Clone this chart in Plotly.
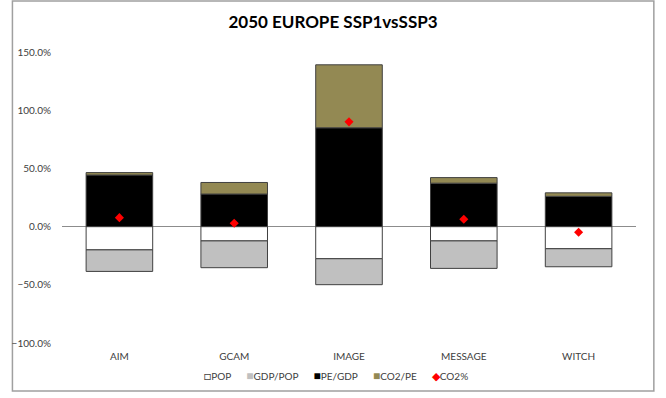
import plotly.graph_objects as go

# Decomposition of the change in CO2 emissions, Europe 2050 (SSP1 vs SSP3)
models = ["AIM", "GCAM", "IMAGE", "MESSAGE", "WITCH"]
pop = [-0.200, -0.123, -0.276, -0.123, -0.190]
gdp_pop = [-0.185, -0.230, -0.223, -0.236, -0.155]
pe_gdp = [0.443, 0.280, 0.849, 0.373, 0.260]
co2_pe = [0.021, 0.099, 0.541, 0.048, 0.030]
co2_pct = [0.077, 0.029, 0.900, 0.063, -0.049]
y_ticks = [-1.0, -0.5, 0.0, 0.5, 1.0, 1.5]

W, H = 666, 398
L, R, T, B = 57, 30, 52, 55
pw, ph = W - L - R, H - T - B

edge = dict(color="#404040", width=1)
series = [
    ("POP", pop, "#ffffff"),
    ("GDP/POP", gdp_pop, "#c0c0c0"),
    ("PE/GDP", pe_gdp, "#000000"),
    ("CO2/PE", co2_pe, "#938953"),
]

fig = go.Figure()
for name, vals, col in series:
    fig.add_bar(name=name, x=models, y=vals, marker=dict(color=col, line=edge))
fig.add_scatter(name="CO2%", x=models, y=co2_pct, mode="markers",
                marker=dict(symbol="diamond", color="#ff0000", size=7))

font_family = "Lato, 'Open Sans', sans-serif"
tick_font = dict(family=font_family, size=10, color="#404040")

# compact one-line key under the plot
key_parts = []
for name, _, col in series:
    glyph = "□" if col == "#ffffff" else "■"
    gcol = "#404040" if col == "#ffffff" else col
    key_parts.append(f"<span style='color:{gcol};font-size:12px'>{glyph}</span>{name}")
key_parts.append("<span style='color:#ff0000;font-size:11px'>◆</span>CO2%")
key_text = "\u2002\u2002\u2002".join(key_parts)

# outer chart frame
fx0 = (7 - L) / pw
fx1 = (654 - L) / pw
fy0 = -(391 - (H - B)) / ph
fy1 = 1 + (T - 1) / ph

fig.update_layout(
    width=W, height=H,
    margin=dict(l=L, r=R, t=T, b=B),
    paper_bgcolor="white", plot_bgcolor="white",
    barmode="relative", bargap=0.42, showlegend=False,
    title=dict(text="<b>2050 EUROPE SSP1vsSSP3</b>", x=0.5, xanchor="center",
               y=1 - 22 / H, yanchor="middle", yref="container",
               font=dict(family=font_family, size=17, color="#000000")),
    xaxis=dict(showline=False, showgrid=False, ticks="", tickfont=tick_font,
               ticklabelstandoff=6),
    yaxis=dict(range=[-1.0, 1.5], tickvals=y_ticks, tickformat=".1%",
               showgrid=False, showline=False, ticks="", tickfont=tick_font,
               zeroline=True, zerolinecolor="#8c8c8c", zerolinewidth=1,
               ticklabelstandoff=10),
    annotations=[dict(text=key_text, xref="paper", yref="paper", x=(W / 2 - L) / pw,
                      y=-(375 - (H - B)) / ph, xanchor="center", yanchor="middle",
                      showarrow=False, font=tick_font)],
    shapes=[dict(type="rect", xref="paper", yref="paper", x0=fx0, x1=fx1, y0=fy0, y1=fy1,
                 line=dict(color="#a0a0a0", width=1.5), layer="below")],
)

fig.write_html("out.html")
